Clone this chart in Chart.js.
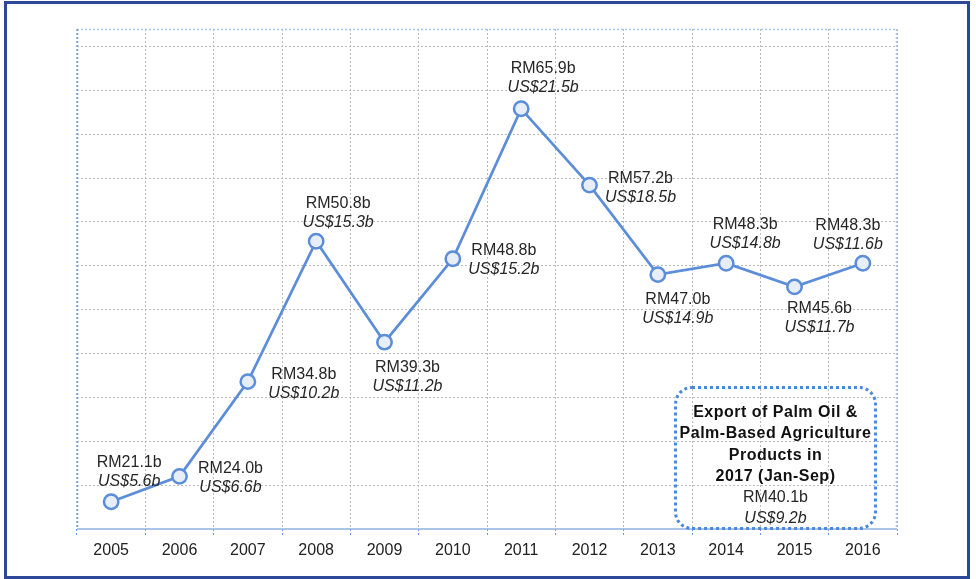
<!DOCTYPE html>
<html>
<head>
<meta charset="utf-8">
<script src="https://cdn.jsdelivr.net/npm/chart.js@4"></script>
<style>
    html, body { margin: 0; padding: 0; background: #fff; }
    #wrap { position: relative; width: 976px; height: 579px; overflow: hidden; }
    #frame {
        position: absolute; left: 4px; top: 1px; width: 966px; height: 578px;
        border: 3px solid #2d4899; box-sizing: border-box; pointer-events: none;
    }
    #note {
        position: absolute; left: 674px; top: 386px; width: 203px; height: 144px;
        box-sizing: border-box; border: 3px dotted #4a88db; border-radius: 18px;
        padding-top: 12px; text-align: center;
        font-family: "Liberation Sans", Arial, sans-serif; color: #262626;
        font-size: 16px; line-height: 21.3px;
    }
    #note .t { font-weight: bold; color: #111; letter-spacing: 0.5px; }
    #note .us { font-style: italic; }
</style>
</head>
<body>
<div id="wrap">
    <canvas id="exportChart"></canvas>
    <div id="frame"></div>
    <div id="note">
        <div class="t">Export of Palm Oil &amp;</div>
        <div class="t">Palm-Based Agriculture</div>
        <div class="t">Products in</div>
        <div class="t">2017 (Jan-Sep)</div>
        <div>RM40.1b</div>
        <div class="us">US$9.2b</div>
    </div>
</div>
<script>
    // data
    var years = ['2005', '2006', '2007', '2008', '2009', '2010', '2011', '2012', '2013', '2014', '2015', '2016'];
    var rmValues = [21.1, 24.0, 34.8, 50.8, 39.3, 48.8, 65.9, 57.2, 47.0, 48.3, 45.6, 48.3];
    var usValues = [5.6, 6.6, 10.2, 15.3, 11.2, 15.2, 21.5, 18.5, 14.9, 14.8, 11.7, 11.6];
    var yGridValues = [23, 28, 33, 38, 43, 48, 53, 58, 63, 68, 73];

    // where each label sits relative to its point (centre of first line)
    var labelOffsets = [
        [18, -39], [51, -8], [56, -7], [22, -38], [23, 25], [51, -8],
        [22, -40], [51, -7], [20, 25], [19, -39], [25, 22], [-15, -38]
    ];

    var FONT = '"Liberation Sans", Arial, sans-serif';
    var LINE_BLUE = '#5b8dd9';
    var GRID_GREY = '#bcbcbc';

    var plotFrame = {
        id: 'plotFrame',
        beforeDatasetsDraw: function (chart) {
            var a = chart.chartArea;
            var ctx = chart.ctx;
            ctx.save();
            ctx.lineWidth = 1.5;
            ctx.setLineDash([2, 2]);
            ctx.strokeStyle = '#a9c4ea';
            ctx.beginPath();
            ctx.moveTo(a.left, a.top + 0.5);
            ctx.lineTo(a.right, a.top + 0.5);
            ctx.moveTo(a.right - 0.5, a.top);
            ctx.lineTo(a.right - 0.5, a.bottom);
            ctx.stroke();
            ctx.strokeStyle = '#7f9fcf';
            ctx.beginPath();
            ctx.moveTo(a.left + 0.5, a.top);
            ctx.lineTo(a.left + 0.5, a.bottom);
            ctx.stroke();
            ctx.setLineDash([]);
            ctx.strokeStyle = '#8fb2e3';
            ctx.beginPath();
            ctx.moveTo(a.left, a.bottom);
            ctx.lineTo(a.right, a.bottom);
            ctx.stroke();
            ctx.restore();
        }
    };

    var pointLabels = {
        id: 'pointLabels',
        afterDatasetsDraw: function (chart) {
            var ctx = chart.ctx;
            var meta = chart.getDatasetMeta(0);
            ctx.save();
            ctx.fillStyle = '#262626';
            ctx.textAlign = 'center';
            ctx.textBaseline = 'middle';
            meta.data.forEach(function (pt, i) {
                var x = pt.x + labelOffsets[i][0];
                var y = pt.y + labelOffsets[i][1];
                ctx.font = '16px ' + FONT;
                ctx.fillText('RM' + rmValues[i].toFixed(1) + 'b', x, y);
                ctx.font = 'italic 16px ' + FONT;
                ctx.fillText('US$' + usValues[i].toFixed(1) + 'b', x, y + 19);
            });
            ctx.restore();
        }
    };

    new Chart(document.getElementById('exportChart').getContext('2d'), {
        type: 'line',
        data: {
            labels: years,
            datasets: [{
                data: rmValues,
                borderColor: LINE_BLUE,
                borderWidth: 2.7,
                pointRadius: 7.2,
                pointBackgroundColor: '#e8eef8',
                pointBorderColor: LINE_BLUE,
                pointBorderWidth: 2.5,
                tension: 0,
                clip: false
            }]
        },
        options: {
            responsive: true,
            maintainAspectRatio: false,
            animation: false,
            layout: { padding: { left: 77, right: 79, top: 29, bottom: 0 } },
            plugins: { legend: { display: false }, tooltip: { enabled: false } },
            scales: {
                x: {
                    offset: true,
                    grid: {
                        offset: true,
                        color: GRID_GREY,
                        lineWidth: 1,
                        tickLength: 6,
                        tickColor: '#6c9be0',
                        tickBorderDash: [2, 2]
                    },
                    border: { display: false, dash: [2, 2] },
                    ticks: {
                        color: '#222',
                        font: { family: FONT, size: 16 },
                        padding: 6,
                        maxRotation: 0
                    },
                    afterFit: function (scale) { scale.height = 50; }
                },
                y: {
                    min: 18,
                    max: 75,
                    grid: { color: GRID_GREY, lineWidth: 1, drawTicks: false },
                    border: { display: false, dash: [2, 2] },
                    ticks: { display: false },
                    afterBuildTicks: function (scale) {
                        scale.ticks = yGridValues.map(function (v) { return { value: v }; });
                    },
                    afterFit: function (scale) { scale.width = 0; }
                }
            }
        },
        plugins: [plotFrame, pointLabels]
    });
</script>
</body>
</html>
